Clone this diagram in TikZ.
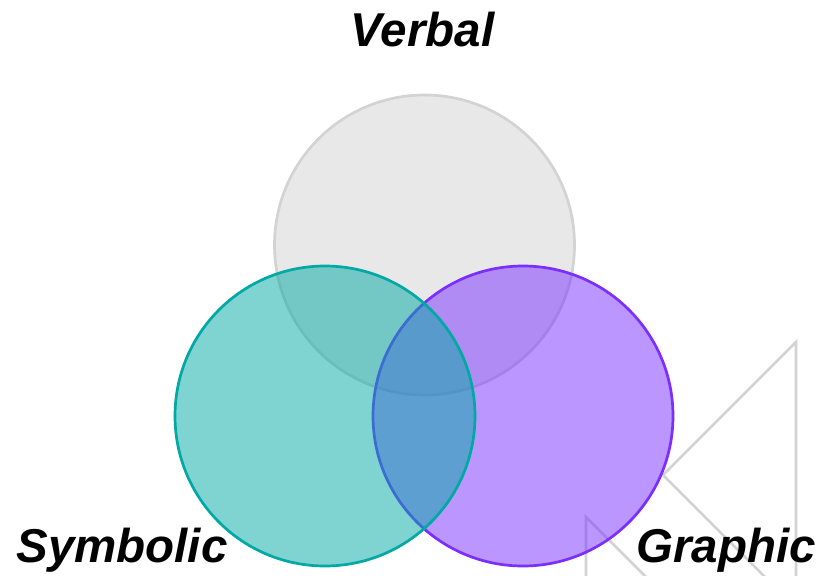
\documentclass[tikz,border=0pt]{standalone}
\usepackage{fontspec}
\setmainfont{Liberation Sans}
\definecolor{ghost}{HTML}{D3D3D3}
\definecolor{tealc}{HTML}{00A9A5}
\definecolor{purplec}{HTML}{7A2FFF}
\tikzset{
  ghostline/.style={draw=ghost,line width=2.7pt,line join=miter},
  venn/.style={circle,inner sep=0pt,minimum size=300pt,line width=2.7pt,fill opacity=.5},
  vlabel/.style={font=\fontsize{47.5pt}{47.5pt}\selectfont\bfseries\itshape,text=black,anchor=base,inner sep=0pt}
}
\begin{document}
\begin{tikzpicture}[x=1pt,y=-1pt]
\useasboundingbox (0,0) rectangle (818,575);
\clip (0,0) rectangle (818,575);
\fill[white] (0,0) rectangle (818,575);
\draw[ghostline] (796,600) -- (796,342) -- (663,475) -- (788,600);
\draw[ghostline] (586,600) -- (586,517) -- (669,600);
\node[venn,draw=ghost,fill=ghost] (verbal) at (424.5,245) {};
\node[venn,draw=purplec,fill=purplec] (graphic) at (523,416) {};
\node[venn,draw=tealc,fill=tealc] (symbolic) at (325,416) {};
\node[vlabel] (lv) at (422.5,47) {Verbal};
\node[vlabel] (ls) at (122,562.5) {Symbolic};
\node[vlabel] (lg) at (726,562.5) {Graphic};
\end{tikzpicture}
\end{document}
